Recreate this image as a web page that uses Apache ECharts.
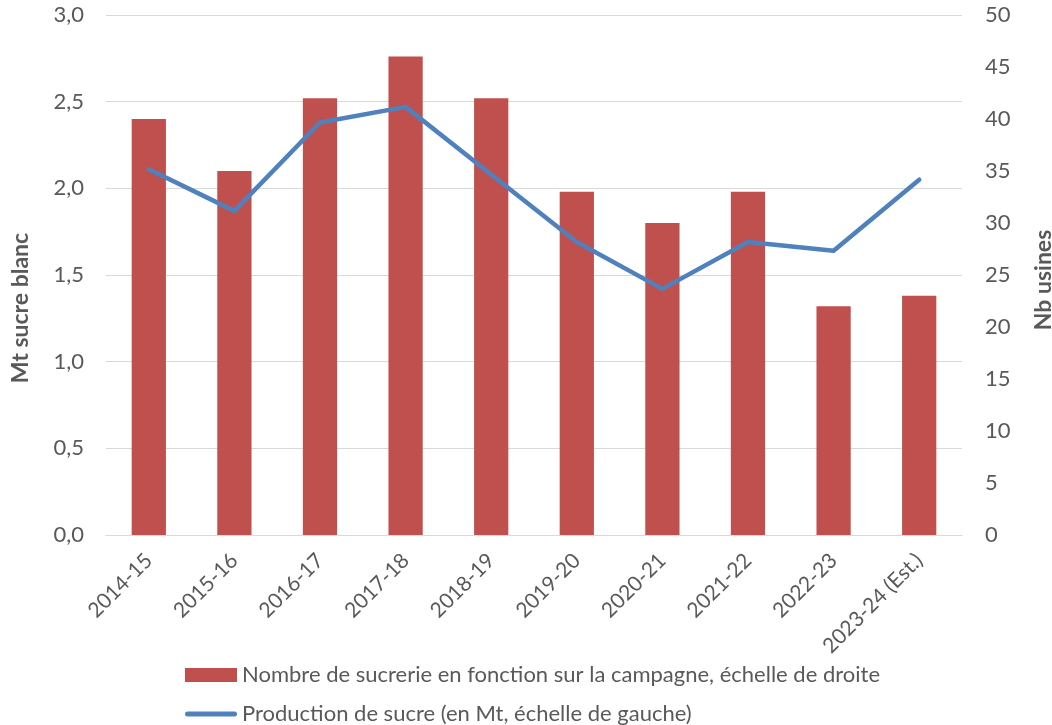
<!DOCTYPE html>
<html>
<head>
<meta charset="utf-8">
<script src="https://cdn.jsdelivr.net/npm/echarts@6/dist/echarts.min.js"></script>
<style>
  html, body { margin: 0; padding: 0; background: #fff; }
  #chart { width: 1052px; height: 725px; }
</style>
</head>
<body>
<div id="chart"></div>
<script>
// campagnes
const campagnes = [
  "2014-15", "2015-16", "2016-17", "2017-18", "2018-19",
  "2019-20", "2020-21", "2021-22", "2022-23", "2023-24 (Est.)"
];
// nombre de sucreries (échelle de droite)
const nbSucreries = [40, 35, 42, 46, 42, 33, 30, 33, 22, 23];
// production de sucre en Mt (échelle de gauche)
const production = [2.11, 1.87, 2.38, 2.47, 2.08, 1.69, 1.42, 1.69, 1.64, 2.05];

const barName = "Nombre de sucrerie en fonction sur la campagne, échelle de droite";
const lineName = "Production de sucre (en Mt, échelle de gauche)";

const FONT = "Lato, 'Liberation Sans', sans-serif";
const GREY = "#595959";
// icône trait arrondi pour la légende de la courbe
const LINE_ICON = "path://M2.5,0 H49.5 A2.5,2.5 0 0 1 49.5,5 H2.5 A2.5,2.5 0 0 1 2.5,0 Z";

const chart = echarts.init(document.getElementById("chart"));

chart.setOption({
  animation: false,
  textStyle: { fontFamily: FONT },
  grid: { left: 106, right: 90, top: 15, bottom: 190, containLabel: false, outerBoundsMode: "none" },
  legend: {
    orient: "vertical",
    left: 185,
    bottom: 0,
    padding: 0,
    itemWidth: 52,
    itemHeight: 14,
    itemGap: 17,
    textStyle: { fontSize: 22, lineHeight: 20, color: GREY, fontFamily: FONT },
    data: [
      { name: barName, icon: "rect" },
      { name: lineName, icon: LINE_ICON }
    ]
  },
  xAxis: {
    type: "category",
    data: campagnes,
    axisLine: { lineStyle: { color: "#d9d9d9", width: 1 } },
    axisTick: { show: false },
    axisLabel: { rotate: 45, fontSize: 21, color: GREY, margin: 22, interval: 0 }
  },
  yAxis: [
    {
      type: "value",
      min: 0, max: 3, interval: 0.5,
      name: "Mt sucre blanc",
      nameLocation: "middle",
      nameRotate: 90,
      nameGap: 74,
      nameTextStyle: { fontSize: 23, fontWeight: "bold", color: GREY, padding: [0, 66, 0, 0] },
      axisLine: { show: false },
      axisTick: { show: false },
      axisLabel: {
        fontSize: 22, color: GREY, margin: 22,
        formatter: v => v.toFixed(1).replace(".", ",")
      },
      splitLine: { lineStyle: { color: "#d9d9d9", width: 1 } }
    },
    {
      type: "value",
      min: 0, max: 50, interval: 5,
      name: "Nb usines",
      nameLocation: "middle",
      nameRotate: 90,
      nameGap: 70,
      nameTextStyle: { fontSize: 23, fontWeight: "bold", color: GREY, padding: [0, 10, 0, 0] },
      axisLine: { show: false },
      axisTick: { show: false },
      axisLabel: { fontSize: 22, color: GREY, margin: 23 },
      splitLine: { show: false }
    }
  ],
  series: [
    {
      name: barName,
      type: "bar",
      yAxisIndex: 1,
      data: nbSucreries,
      barWidth: "40%",
      itemStyle: { color: "#C0504D" }
    },
    {
      name: lineName,
      type: "line",
      yAxisIndex: 0,
      data: production,
      symbol: "none",
      lineStyle: { color: "#4F81BD", width: 4.5, cap: "round", join: "round" },
      itemStyle: { color: "#4F81BD" }
    }
  ]
});
</script>
</body>
</html>
